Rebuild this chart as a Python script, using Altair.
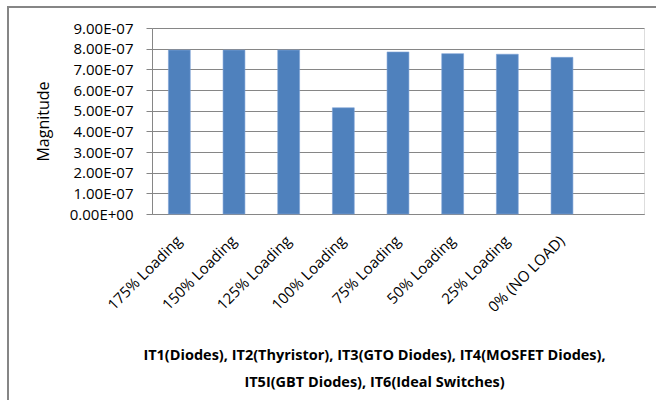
import json
import altair as alt
import pandas as pd

categories = ["175% Loading", "150% Loading", "125% Loading", "100% Loading",
              "75% Loading", "50% Loading", "25% Loading", "0% (NO LOAD)"]
values = [7.93e-7, 7.93e-7, 7.93e-7, 5.14e-7, 7.84e-7, 7.76e-7, 7.73e-7, 7.58e-7]
# Excel leaves one empty category slot at the right end
domain = categories + [" "]

y_ticks = [i * 1e-7 for i in range(10)]
y_tick_labels = ["0.00E+00", "1.00E-07", "2.00E-07", "3.00E-07", "4.00E-07",
                 "5.00E-07", "6.00E-07", "7.00E-07", "8.00E-07", "9.00E-07"]
x_title = ["IT1(Diodes),  IT2(Thyristor), IT3(GTO Diodes), IT4(MOSFET Diodes),",
           "IT5I(GBT Diodes), IT6(Ideal Switches)"]

df = pd.DataFrame({"cat": categories, "val": values})
FONT = "Open Sans"

bars = alt.Chart(df).mark_bar(color="#4F81BD", stroke="#7da3d6", strokeWidth=0.6).encode(
    x=alt.X("cat:N", sort=domain,
            scale=alt.Scale(domain=domain, paddingInner=0.6, paddingOuter=0.3),
            axis=alt.Axis(title=x_title, labelAngle=-45, labelAlign="right",
                          labelBaseline="middle", labelPadding=24, ticks=False,
                          domainColor="#868686", labelFont=FONT, labelFontSize=15,
                          labelColor="#000000", titleFont=FONT, titleFontSize=14.5,
                          titleFontWeight="bold", titleColor="#000000",
                          titleLineHeight=27, titleX=222, titleY=134,
                          titleAlign="center", titleBaseline="top")),
    y=alt.Y("val:Q", scale=alt.Scale(domain=[0, 9e-7], nice=False),
            axis=alt.Axis(title="Magnitude", values=y_ticks,
                          labelExpr=json.dumps(y_tick_labels) + "[round(datum.value*1e7)]",
                          tickColor="#868686", tickSize=6, domainColor="#868686",
                          gridColor="#868686", labelFont=FONT, labelFontSize=15,
                          labelColor="#000000", labelPadding=13, titleFont=FONT,
                          titleFontSize=16, titleFontWeight="normal",
                          titleColor="#000000", titlePadding=18)),
)

# outer chart-area frame (only its top and left edges fall inside the picture)
frame = alt.Chart(df).mark_rect(fill=None, stroke="#868686", strokeWidth=1.5).encode(
    x=alt.value(-144), x2=alt.value(530), y=alt.value(-21), y2=alt.value(400)
)

chart = alt.layer(bars, frame).properties(
    width=492, height=186,
    autosize=alt.AutoSizeParams(type="none"),
    padding={"left": 152, "top": 28, "right": 12, "bottom": 186},
).configure_view(stroke=None).configure(background="white")

chart.save("out.html", embed_options={"renderer": "svg", "actions": False})
